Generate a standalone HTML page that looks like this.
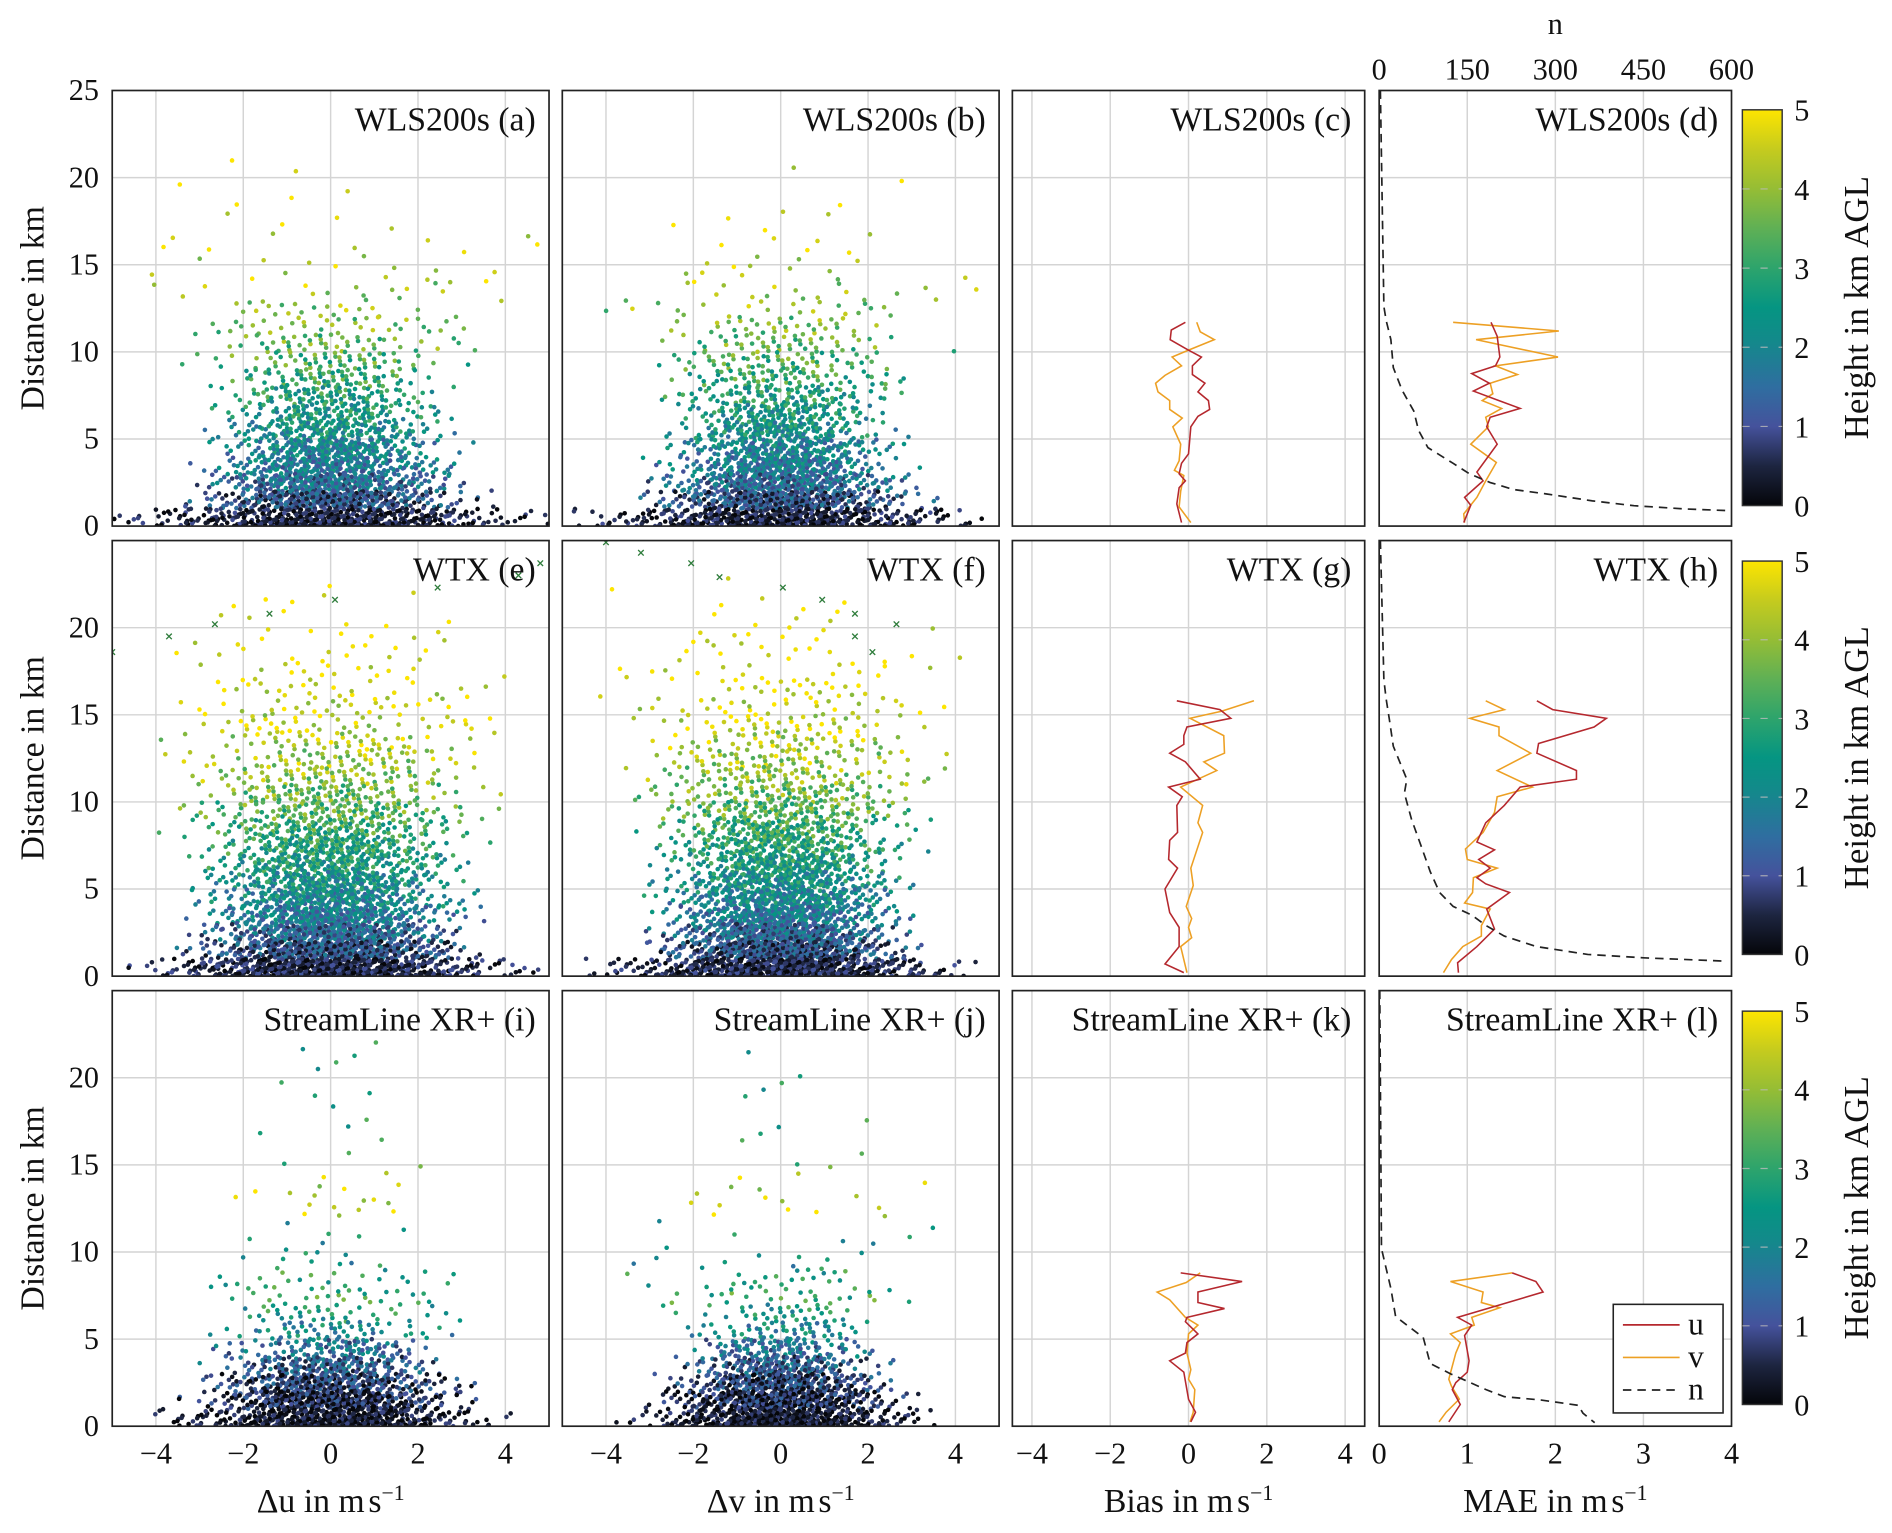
<!DOCTYPE html>
<html><head><meta charset="utf-8"><style>
html,body{margin:0;padding:0;background:#fff;}
svg{display:block;font-family:"Liberation Serif","DejaVu Serif",serif;}
</style></head><body>
<svg id="fig" width="1892" height="1533" viewBox="0 0 1568 1270.5" xmlns="http://www.w3.org/2000/svg">
<defs>
<linearGradient id="vir" x1="0" y1="1" x2="0" y2="0">
<stop offset="0" stop-color="#05060a"/><stop offset="0.1" stop-color="#1d2540"/><stop offset="0.2" stop-color="#45529c"/><stop offset="0.3" stop-color="#2f6ea0"/><stop offset="0.42" stop-color="#128a8a"/><stop offset="0.5" stop-color="#059582"/><stop offset="0.6" stop-color="#2da46c"/><stop offset="0.7" stop-color="#5fb055"/><stop offset="0.8" stop-color="#95bd35"/><stop offset="0.9" stop-color="#c5cb1e"/><stop offset="1" stop-color="#fde500"/>
</linearGradient>
</defs>
</svg>
<script>
// ---------- data ----------
const countsA=[420,320,260,210,170,140,115,95,75,62,48,36,24,14,10,7,6,4,2,2,2,1];
const sdA=[2.0,1.4,1.3,1.2,1.2,1.15,1.15,1.2,1.2,1.3,1.4,1.5,1.7,1.9,2.2,2.4,2.4,2.4,2.4,2.6,2.8,3.0];
const hA=[0.4,1.0,1.5,1.8,2.0,2.3,2.5,2.7,3.0,3.2,3.5,3.7,3.9,4.1,4.3,4.5,4.6,4.7,4.8,4.9,4.9,4.9];
const countsB=[420,320,260,210,170,140,115,95,75,62,48,36,24,14,10,7,5,3,2,2,1,0];
const sdB=[1.9,1.35,1.25,1.15,1.15,1.1,1.1,1.15,1.2,1.3,1.4,1.5,1.7,1.9,2.1,2.2,2.3,2.4,2.5,2.6,2.7,2.8];
const hB=[0.4,1.0,1.5,1.8,2.0,2.3,2.5,2.7,3.0,3.2,3.5,3.7,3.9,4.1,4.3,4.5,4.6,4.7,4.8,4.9,4.9,4.9];
const countsE=[540,400,310,260,225,200,175,155,135,115,95,78,65,52,42,32,24,18,13,10,6,4,2];
const sdE=[1.8,1.35,1.3,1.3,1.3,1.3,1.3,1.35,1.4,1.45,1.5,1.55,1.6,1.6,1.6,1.6,1.6,1.6,1.6,1.6,1.5,1.4,1.3];
const hE=[0.5,1.0,1.4,1.8,2.1,2.3,2.6,2.8,3.0,3.4,3.6,3.9,4.1,4.3,4.5,4.6,4.7,4.8,4.8,4.9,4.9,4.9,4.9];
const countsF=[540,400,310,260,225,200,175,155,135,115,95,78,65,52,42,32,24,18,13,10,6,4,2];
const sdF=[1.7,1.25,1.2,1.15,1.2,1.2,1.2,1.25,1.3,1.35,1.4,1.45,1.5,1.5,1.6,1.6,1.7,1.7,1.8,1.8,1.8,1.8,1.8];
const hF=[0.5,1.0,1.4,1.8,2.1,2.3,2.6,2.8,3.0,3.4,3.6,3.9,4.1,4.3,4.5,4.6,4.7,4.8,4.8,4.9,4.9,4.9,4.9];
const countsI=[400,330,240,150,95,55,38,28,20,10,4,3,8,8,3,2,2,2,2,2,2,2,1];
const sdI=[1.6,1.35,1.25,1.15,1.1,1.1,1.2,1.4,1.5,1.5,1.6,1.8,1.3,1.3,1.5,1.0,0.8,0.8,0.8,0.8,0.8,0.8,0.6];
const hI=[0.3,0.5,0.8,1.2,1.6,2.1,2.6,3.0,2.8,2.4,2.5,2.5,4.4,4.5,4.5,3.5,2.8,2.8,2.8,2.5,2.5,2.5,2.5];
const countsJ=[400,330,240,150,95,55,38,28,20,10,4,3,8,6,3,2,2,2,1,2,1,1,1];
const sdJ=[1.4,1.2,1.1,1.0,1.0,1.0,1.1,1.3,1.4,1.5,1.6,1.8,1.5,1.5,1.4,1.0,0.8,0.8,0.8,0.8,0.8,0.8,0.6];
const hJ=[0.3,0.5,0.8,1.2,1.6,2.1,2.6,3.0,2.8,2.4,2.5,2.5,4.4,4.5,4.5,3.5,2.8,2.8,2.8,2.5,2.5,2.5,2.5];
const crossE_x=[-5.0,-3.7,-2.65,-1.4,0.1,2.45,4.3,4.8];
const crossE_d=[18.6,19.5,20.2,20.8,21.6,22.3,23.0,23.7];
const crossF_x=[-4.0,-3.2,-2.05,-1.4,0.05,0.95,1.7,1.7,2.65,2.1];
const crossF_d=[24.9,24.3,23.7,22.9,22.3,21.6,20.8,19.5,20.2,18.6];
const c_ud=[11.7,11.25,10.7,10.1,9.7,9.2,8.7,8.2,7.7,7.2,6.7,6.3,5.7,4.15,3.6,3.0,2.6,2.2,1.27,0.2];
const c_u=[-0.08,-0.44,-0.47,0,0.33,0.1,0.1,0.42,0.24,0.51,0.54,0.24,0.06,0,-0.18,-0.24,-0.08,-0.24,-0.3,-0.18];
const c_vd=[11.7,11.15,10.7,10.1,9.7,9.2,8.65,8.2,7.7,7.2,6.7,6.2,5.7,4.7,3.75,3.2,2.9,2.0,1.1,0.2];
const c_v=[0.21,0.3,0.66,0,-0.42,-0.18,-0.6,-0.84,-0.78,-0.48,-0.48,-0.16,-0.4,-0.2,-0.24,-0.36,-0.12,-0.2,-0.24,0.06];
const d_ud=[11.7,10.9,9.7,9.2,8.75,8.2,7.75,7.2,6.75,6.25,5.7,4.7,3.1,2.6,1.65,1.2,0.2];
const d_u=[1.27,1.34,1.37,1.32,1.05,1.25,1.07,1.36,1.6,1.26,1.22,1.34,1.11,1.18,0.97,1.04,0.96];
const d_vd=[11.7,11.2,10.7,9.7,9.2,8.7,8.2,7.6,7.2,6.75,6.25,5.7,4.7,3.65,2.6,1.65,0.7,0.2];
const d_v=[0.84,2.04,1.1,2.03,1.32,1.57,1.26,1.29,1.17,1.39,1.21,1.24,1.04,1.33,1.21,1.11,0.96,0.97];
const d_nd=[25,12.6,11.8,10.7,9.1,7.8,6.6,5.5,4.5,3.6,3.0,2.5,2.1,1.85,1.45,1.17,0.98,0.88];
const d_n=[2,8,12,20,24,39,59,67,83,126,154,189,229,284,363,434,521,600];
const g_ud=[15.8,15.3,14.8,14.3,13.8,13.3,12.8,12.3,11.3,10.85,10.3,9.8,8.25,7.8,6.7,6.2,5.0,3.65,2.8,1.7,0.7,0.2];
const g_u=[-0.3,0.8,1.08,-0.04,-0.12,-0.12,-0.48,-0.08,0.3,-0.51,-0.16,-0.3,-0.28,-0.48,-0.51,-0.28,-0.6,-0.48,-0.24,-0.24,-0.6,-0.12];
const g_vd=[15.8,15.2,14.8,13.8,12.8,12.3,11.8,10.85,9.8,8.8,8.25,6.2,5.2,4.0,3.3,2.8,2.2,1.7,0.2];
const g_v=[1.67,0.84,0.04,0.9,0.92,0.39,0.72,-0.2,0.36,0.24,0.36,0.06,0.12,-0.06,0.08,0,0.08,-0.2,-0.04];
const h_ud=[15.8,15.3,14.8,14.3,13.35,12.8,11.8,11.3,10.85,9.8,8.8,7.7,7.25,6.7,6.2,5.65,5.3,4.8,3.85,2.7,1.7,0.77,0.2];
const h_u=[1.79,1.97,2.58,2.44,1.81,1.79,2.24,2.24,1.6,1.42,1.21,1.11,1.31,1.13,1.26,1.11,1.21,1.48,1.22,1.31,1.11,0.89,0.9];
const h_vd=[15.8,15.3,14.8,14.3,13.8,12.8,11.8,10.85,10.3,9.4,8.25,7.3,6.7,6.2,5.65,4.8,4.2,3.85,2.9,2.3,1.7,0.95,0.2];
const h_v=[1.21,1.42,1.03,1.36,1.36,1.72,1.34,1.74,1.34,1.31,1.18,0.98,1.0,1.34,1.07,1.06,0.97,1.26,1.16,1.16,0.95,0.82,0.73];
const h_nd=[25,17,15.9,14.8,13.2,11.3,10.5,9.0,7.5,6.0,4.8,4.0,3.5,2.9,2.3,1.7,1.25,1.05,0.86];
const h_n=[2,8,12,17,24,47,43,55,71,87,103,126,158,182,213,268,355,450,592];
const k_ud=[8.8,8.3,7.7,7.1,6.75,6.25,6.0,5.3,4.8,4.2,3.75,3.1,1.55,0.8,0.25];
const k_u=[-0.2,1.37,0.24,0.24,0.92,-0.04,-0.08,0.24,-0.04,-0.08,-0.48,-0.12,0,0.18,0.06];
const k_vd=[8.8,8.25,7.7,7.25,6.25,5.8,5.3,4.2,3.25,2.7,2.1,0.8,0.25];
const k_v=[0.3,-0.06,-0.8,-0.48,-0.08,0.24,0,-0.04,0.06,0,0.16,0.12,0.04];
const l_ud=[8.8,8.3,7.7,6.25,5.8,5.2,3.75,3.1,2.5,2.1,1.25,0.25];
const l_u=[1.51,1.78,1.86,0.89,1.05,0.97,1.02,1.0,0.87,0.83,0.92,0.79];
const l_vd=[8.8,8.3,7.7,7.1,6.8,6.25,5.8,5.3,4.8,4.2,2.7,2.3,1.55,0.8,0.25];
const l_v=[1.51,0.81,1.18,1.16,1.37,1.05,1.08,0.81,0.92,0.87,0.79,0.82,0.91,0.76,0.68];
const l_nd=[25,10.2,7.9,6.3,5.8,5.1,3.6,3.0,2.1,1.7,1.5,1.2,0.75,0.2];
const l_n=[1,4,20,28,47,75,87,122,182,213,276,339,347,367];
const yTicks=[0,5,10,15,20,25];
const deltaTicks=[-4,-2,0,2,4];
const maeTicks=[0,1,2,3,4];
const nTicks=[0,150,300,450,600];
const cbTicks=[0,1,2,3,4,5];

// ---------- layout ----------
const NS="http://www.w3.org/2000/svg";
const svg=document.getElementById('fig');
const cols=[{x0:93,x1:455,mn:-5,mx:5},{x0:466,x1:828,mn:-5,mx:5},{x0:839,x1:1131,mn:-4.5,mx:4.5},{x0:1143,x1:1435,mn:0,mx:4}];
const rows=[{y0:75,y1:436},{y0:448,y1:809},{y0:821,y1:1182}];
const YMAX=25;
function el(tag,attrs,parent){const e=document.createElementNS(NS,tag);for(const k in attrs)e.setAttribute(k,attrs[k]);(parent||svg).appendChild(e);return e;}
function xs(c,v){const C=cols[c];return C.x0+(v-C.mn)/(C.mx-C.mn)*(C.x1-C.x0);}
function ys(r,d){const R=rows[r];return R.y1-d/YMAX*(R.y1-R.y0);}
const stops=[[0,[5,6,10]],[0.1,[29,37,64]],[0.2,[69,82,156]],[0.3,[47,110,160]],[0.42,[18,138,138]],[0.5,[5,149,130]],[0.6,[45,164,108]],[0.7,[95,176,85]],[0.8,[149,189,53]],[0.9,[197,203,30]],[1,[253,229,0]]];
function cmap(h){let t=Math.max(0,Math.min(1,h/5));for(let i=1;i<stops.length;i++){if(t<=stops[i][0]){const a=stops[i-1],b=stops[i];const f=(t-a[0])/(b[0]-a[0]);const c=a[1].map((v,j)=>Math.round(v+(b[1][j]-v)*f));return `rgb(${c[0]},${c[1]},${c[2]})`;}}return 'rgb(253,229,0)';}
function frac(x){return x-Math.floor(x);}

const defs=svg.querySelector('defs');
rows.forEach((R,r)=>cols.forEach((C,c)=>{const cp=el('clipPath',{id:`cp${r}${c}`},defs);el('rect',{x:C.x0,y:R.y0,width:C.x1-C.x0,height:R.y1-R.y0},cp);}));

rows.forEach((R,r)=>cols.forEach((C,c)=>{
  const g=el('g',{});
  
  
  const xt=c===3?[1,2,3]:deltaTicks;
  xt.forEach(v=>el('line',{x1:xs(c,v),x2:xs(c,v),y1:R.y0,y2:R.y1,stroke:'#d4d4d4','stroke-width':1.2},g));
  [5,10,15,20].forEach(v=>el('line',{x1:C.x0,x2:C.x1,y1:ys(r,v),y2:ys(r,v),stroke:'#d4d4d4','stroke-width':1.2},g));
}));

const labels='abcdefghijkl';
const titles=['WLS200s','WLS200s','WLS200s','WLS200s','WTX','WTX','WTX','WTX','StreamLine XR+','StreamLine XR+','StreamLine XR+','StreamLine XR+'];

const scat=[[countsA,sdA,hA],[countsB,sdB,hB],[countsE,sdE,hE],[countsF,sdF,hF],[countsI,sdI,hI],[countsJ,sdJ,hJ]];
scat.forEach((s,idx)=>{
  const r=Math.floor(idx/2),c=idx%2;
  const g=el('g',{'clip-path':`url(#cp${r}${c})`});
  
  
  const [cnt,sd,hm]=s;let k=idx*977;
  const pts=[];
  for(let b=cnt.length-1;b>=0;b--){
    for(let i=0;i<cnt[b];i++){k++;
      const u=(frac(k*0.7548776662)+frac(k*0.5698402910+0.31)+frac(k*0.41421356+0.57)-1.5)*2;
      const dd=b===0?Math.pow(frac(k*0.6180339887+0.13),1.3):b+frac(k*0.6180339887+0.13);
      const h=hm[b]+(frac(k*0.3183098862+0.7)-0.5)*(b===0?1.2:1.8);
      pts.push([sd[b]*u,dd,h]);
    }
  }
  pts.forEach(p=>{el('circle',{cx:xs(c,p[0]).toFixed(1),cy:ys(r,p[1]).toFixed(1),r:1.9,fill:cmap(p[2])},g);});
});
[[crossE_x,crossE_d,0],[crossF_x,crossF_d,1]].forEach(([xa,da,c])=>{
  const g=el('g',{'clip-path':`url(#cp1${c})`,stroke:'#2f7d3c','stroke-width':1.1});
  
  
  xa.forEach((v,i)=>{const x=xs(c,v),y=ys(1,da[i]);el('path',{d:`M${x-2.3},${y-2.3}L${x+2.3},${y+2.3}M${x-2.3},${y+2.3}L${x+2.3},${y-2.3}`},g);});
});

function line(r,c,ds,vs,color,dash,name,isN){
  const g=el('g',{'clip-path':`url(#cp${r}${c})`});
  const p=el('polyline',{points:ds.map((d,i)=>`${xs(c,isN?vs[i]/150:vs[i]).toFixed(1)},${ys(r,d).toFixed(1)}`).join(' '),fill:'none',stroke:color,'stroke-width':isN?1.4:1.3,'stroke-dasharray':dash||'none'},g);
  
  
}
const RED='#b5282e',ORA='#eda024';
line(0,2,c_vd,c_v,ORA,null,'bias-v-c');line(0,2,c_ud,c_u,RED,null,'bias-u-c');
line(0,3,d_vd,d_v,ORA,null,'mae-v-d');line(0,3,d_ud,d_u,RED,null,'mae-u-d');line(0,3,d_nd,d_n,'#222','7,5','n-d',true);
line(1,2,g_vd,g_v,ORA,null,'bias-v-g');line(1,2,g_ud,g_u,RED,null,'bias-u-g');
line(1,3,h_vd,h_v,ORA,null,'mae-v-h');line(1,3,h_ud,h_u,RED,null,'mae-u-h');line(1,3,h_nd,h_n,'#222','7,5','n-h',true);
line(2,2,k_vd,k_v,ORA,null,'bias-v-k');line(2,2,k_ud,k_u,RED,null,'bias-u-k');
line(2,3,l_vd,l_v,ORA,null,'mae-v-l');line(2,3,l_ud,l_u,RED,null,'mae-u-l');line(2,3,l_nd,l_n,'#222','7,5','n-l',true);

function txt(x,y,s,size,anchor,name,rot){
  const t=el('text',{x:x,y:y,'font-size':size,'text-anchor':anchor||'middle',fill:'#111'});
  if(rot)t.setAttribute('transform',`rotate(-90 ${x} ${y})`);
  t.innerHTML=s;
  
  
  return t;
}
rows.forEach((R,r)=>cols.forEach((C,c)=>{
  const f=el('rect',{x:C.x0,y:R.y0,width:C.x1-C.x0,height:R.y1-R.y0,fill:'none',stroke:'#222','stroke-width':1.4});
  
  
  txt(C.x1-11,R.y0+33,`${titles[r*4+c]} (${labels[r*4+c]})`,28,'end',`panel-title-${labels[r*4+c]}`);
}));
rows.forEach((R,r)=>{
  (r===0?yTicks:yTicks.slice(0,5)).forEach(v=>txt(82,ys(r,v)+8,String(v),25,'end','y-tick-label'));
  txt(36,(R.y0+R.y1)/2,'Distance in km',28,'middle','y-axis-title',true);
});
const mm='−';
deltaTicks.forEach(v=>{[0,1,2].forEach(c=>txt(xs(c,v),1213,(v<0?mm+(-v):String(v)),25,'middle','x-tick-label'));});
maeTicks.forEach(v=>txt(xs(3,v),1213,String(v),25,'middle','x-tick-label'));
nTicks.forEach(v=>txt(xs(3,v/150),66,String(v),25,'middle','n-tick-label'));
txt(1289,28,'n',25,'middle','n-axis-title');
const unit='in m<tspan dx="3">s</tspan><tspan dy="-10" font-size="18">−1</tspan>';
txt(274,1253,'Δu '+unit,28,'middle','x-axis-title-du');
txt(647,1253,'Δv '+unit,28,'middle','x-axis-title-dv');
txt(985,1253,'Bias '+unit,28,'middle','x-axis-title-bias');
txt(1289,1253,'MAE '+unit,28,'middle','x-axis-title-mae');
const cbs=[[91,419],[465,791],[838,1164]];
cbs.forEach(([t,b],i)=>{
  const g=el('g',{});
  
  
  el('rect',{x:1444,y:t,width:33,height:b-t,fill:'url(#vir)',stroke:'#333','stroke-width':1.2},g);
  cbTicks.forEach(v=>{const y=b-v/5*(b-t);
    if(v>0&&v<5){el('line',{x1:1444,x2:1477,y1:y,y2:y,stroke:'#bbb','stroke-width':1,'stroke-dasharray':'6,9','opacity':0.8},g);}
    txt(1487,y+9,String(v),25,'start','colorbar-tick-label');});
  txt(1548,(t+b)/2,'Height in km AGL',29,'middle','colorbar-title',true);
});
const lg=el('g',{});


el('rect',{x:1337,y:1081,width:91,height:90,fill:'#fff',stroke:'#222','stroke-width':1.3},lg);
[['u',RED,null],['v',ORA,null],['n','#222','7,5']].forEach(([s,col,dash],i)=>{
  const y=1098+i*27;
  const ln=el('line',{x1:1345,x2:1392,y1:y,y2:y,stroke:col,'stroke-width':1.4,'stroke-dasharray':dash||'none'},lg);
  
  
  const t=txt(1399,y+8,s,26,'start',`legend-entry-${s}`);lg.appendChild(t);
});
</script>
</body></html>
